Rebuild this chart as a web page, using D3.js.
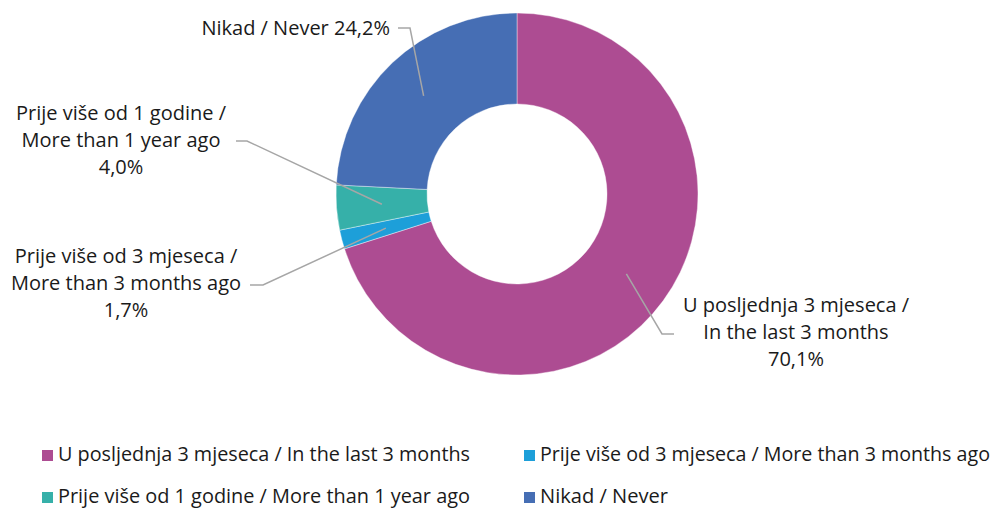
<!DOCTYPE html>
<html>
<head>
<meta charset="utf-8">
<script src="https://cdn.jsdelivr.net/npm/d3@7"></script>
<style>
body { margin: 0; background: #fff; }
svg { display: block; }
</style>
</head>
<body>
<svg id="chart"></svg>
<script>
// data
var categories = [
    "U posljednja 3 mjeseca / In the last 3 months",
    "Prije više od 3 mjeseca / More than 3 months ago",
    "Prije više od 1 godine / More than 1 year ago",
    "Nikad / Never"
];
var values = [70.1, 1.7, 4.0, 24.2];
var valueLabels = ["70,1%", "1,7%", "4,0%", "24,2%"];
var labelLines = [
    ["U posljednja 3 mjeseca /", "In the last 3 months"],
    ["Prije više od 3 mjeseca /", "More than 3 months ago"],
    ["Prije više od 1 godine /", "More than 1 year ago"],
    ["Nikad / Never"]
];
var colors = ["#AD4C92", "#1D9FD9", "#36B0A9", "#466EB4"];

var screen = {width: 997, height: 509};
var center = {x: 517, y: 194};
var outerR = 181, innerR = 90;

// where each label sits (layout only) and the elbow of the leader line
var labelPos = [
    {x: 796, y: 307, elbow: [662, 334], end: [674, 334], anchor: "middle"},
    {x: 126, y: 258, elbow: [263, 285], end: [250, 285], anchor: "middle"},
    {x: 121, y: 115, elbow: [247, 141], end: [236, 141], anchor: "middle"},
    {x: 390, y: 30, elbow: [410, 28], end: [398, 28], anchor: "end"}
];

var svg = d3.select("#chart")
    .attr("width", screen.width)
    .attr("height", screen.height);

var pie = d3.pie().sort(null).value(function(d) { return d; });
var arc = d3.arc().innerRadius(innerR).outerRadius(outerR);
var arcs = pie(values);

var g = svg.append("g")
    .attr("transform", "translate(" + center.x + "," + center.y + ")");

g.selectAll(".slice")
    .data(arcs)
    .enter()
    .append("path")
    .attr("class", "slice")
    .attr("d", arc)
    .attr("fill", function(d, i) { return colors[i]; })
    .attr("stroke", "#fff")
    .attr("stroke-width", 0.4);

// leader lines
svg.selectAll(".leader")
    .data(arcs)
    .enter()
    .append("polyline")
    .attr("class", "leader")
    .attr("points", function(d, i) {
        var c = arc.centroid(d);
        var p = labelPos[i];
        return [[c[0] + center.x, c[1] + center.y], p.elbow, p.end].map(function(q) { return q.join(","); }).join(" ");
    })
    .attr("fill", "none")
    .attr("stroke", "#A6A6A6")
    .attr("stroke-width", 1.5);

// labels
var lineH = 26.8;
var labelFont = "'Open Sans', 'Noto Sans', sans-serif";
labelLines.forEach(function(lines, i) {
    var p = labelPos[i];
    var t = svg.append("text")
        .attr("x", p.x)
        .attr("y", p.y)
        .attr("text-anchor", p.anchor)
        .attr("dominant-baseline", "middle")
        .style("font-family", labelFont)
        .style("font-size", "20px")
        .style("fill", "#1a1a1a");
    if (lines.length == 1) {
        t.text(lines[0] + " " + valueLabels[i]);
    } else {
        var all = lines.concat([valueLabels[i]]);
        all.forEach(function(s, k) {
            t.append("tspan")
                .attr("x", p.x)
                .attr("y", p.y + k * lineH)
                .text(s);
        });
    }
});

// legend
var legendPos = [[42, 456], [524, 456], [42, 498], [524, 498]];
var legendW = [412, 450, 412, 128];
var legend = svg.selectAll(".legend")
    .data(categories)
    .enter()
    .append("g")
    .attr("class", "legend")
    .attr("transform", function(d, i) { return "translate(" + legendPos[i][0] + "," + legendPos[i][1] + ")"; });

legend.append("rect")
    .attr("x", 0)
    .attr("y", -6)
    .attr("width", 11)
    .attr("height", 11)
    .attr("fill", function(d, i) { return colors[i]; });

legend.append("text")
    .attr("x", 16)
    .attr("y", 0)
    .attr("dominant-baseline", "middle")
    .attr("textLength", function(d, i) { return legendW[i]; })
    .attr("lengthAdjust", "spacingAndGlyphs")
    .style("font-family", "'Liberation Sans Narrow', 'Open Sans', sans-serif")
    .style("font-size", "20px")
    .style("fill", "#1a1a1a")
    .text(function(d) { return d; });
</script>
</body>
</html>
